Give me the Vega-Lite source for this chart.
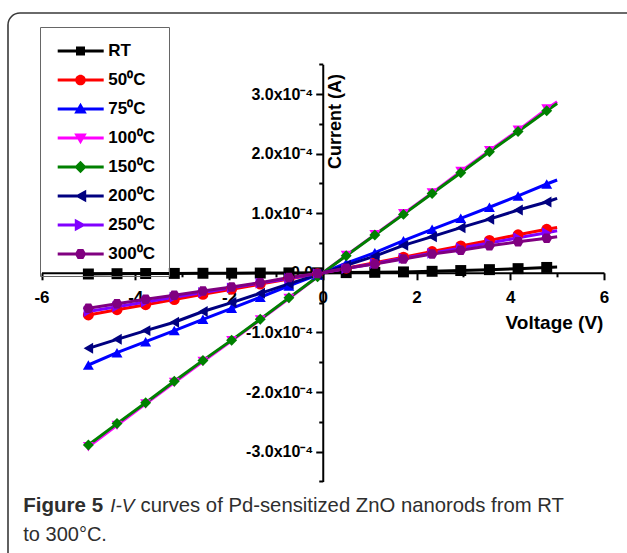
{
  "$schema": "https://vega.github.io/schema/vega-lite/v6.json",
  "width": 640,
  "height": 560,
  "autosize": {"type": "none"},
  "padding": {"left": 8, "top": 13, "right": -21, "bottom": -20},
  "background": "white",
  "config": {
    "font": "Liberation Sans",
    "view": {"stroke": "#3a3a3a", "strokeWidth": 1.6, "cornerRadius": 12},
    "axis": {"grid": false, "domainColor": "black", "tickColor": "black", "labelColor": "black", "titleColor": "black"},
    "legend": {
      "strokeColor": "#666666",
      "strokeWidth": 1,
      "padding": 14,
      "symbolSize": 400,
      "symbolStrokeWidth": 0,
      "symbolOpacity": 1,
      "labelFont": "Liberation Sans",
      "labelFontSize": 17,
      "labelFontWeight": "bold",
      "labelColor": "black",
      "labelOffset": 34.3,
      "rowPadding": 11
    }
  },
  "data": {
    "values": [
      {"T": "RT", "V": -5, "I": -2e-6}, {"T": "RT", "V": -4.389, "I": -1.5e-6}, {"T": "RT", "V": -3.778, "I": -1.2e-6}, {"T": "RT", "V": -3.167, "I": -1e-6}, {"T": "RT", "V": -2.556, "I": -8e-7}, {"T": "RT", "V": -1.944, "I": -6e-7}, {"T": "RT", "V": -1.333, "I": -4e-7}, {"T": "RT", "V": -0.722, "I": -2e-7}, {"T": "RT", "V": -0.111, "I": 0}, {"T": "RT", "V": 0.5, "I": 3e-7}, {"T": "RT", "V": 1.111, "I": 8e-7}, {"T": "RT", "V": 1.722, "I": 1.5e-6}, {"T": "RT", "V": 2.333, "I": 2.5e-6}, {"T": "RT", "V": 2.944, "I": 3.8e-6}, {"T": "RT", "V": 3.556, "I": 5.3e-6}, {"T": "RT", "V": 4.167, "I": 7e-6}, {"T": "RT", "V": 4.778, "I": 9e-6}, {"T": "RT", "V": 5, "I": 9.7e-6},
      {"T": "50⁰C", "V": -5, "I": -7.08e-5}, {"T": "50⁰C", "V": -4.389, "I": -6.2e-5}, {"T": "50⁰C", "V": -3.778, "I": -5.35e-5}, {"T": "50⁰C", "V": -3.167, "I": -4.5e-5}, {"T": "50⁰C", "V": -2.556, "I": -3.62e-5}, {"T": "50⁰C", "V": -1.944, "I": -2.76e-5}, {"T": "50⁰C", "V": -1.333, "I": -1.9e-5}, {"T": "50⁰C", "V": -0.722, "I": -1.03e-5}, {"T": "50⁰C", "V": -0.111, "I": -1.6e-6}, {"T": "50⁰C", "V": 0.5, "I": 7.7e-6}, {"T": "50⁰C", "V": 1.111, "I": 1.7e-5}, {"T": "50⁰C", "V": 1.722, "I": 2.63e-5}, {"T": "50⁰C", "V": 2.333, "I": 3.57e-5}, {"T": "50⁰C", "V": 2.944, "I": 4.5e-5}, {"T": "50⁰C", "V": 3.556, "I": 5.44e-5}, {"T": "50⁰C", "V": 4.167, "I": 6.37e-5}, {"T": "50⁰C", "V": 4.778, "I": 7.3e-5}, {"T": "50⁰C", "V": 5, "I": 7.6e-5},
      {"T": "75⁰C", "V": -5, "I": -1.547e-4}, {"T": "75⁰C", "V": -4.389, "I": -1.34e-4}, {"T": "75⁰C", "V": -3.778, "I": -1.156e-4}, {"T": "75⁰C", "V": -3.167, "I": -9.7e-5}, {"T": "75⁰C", "V": -2.556, "I": -7.8e-5}, {"T": "75⁰C", "V": -1.944, "I": -5.96e-5}, {"T": "75⁰C", "V": -1.333, "I": -4.1e-5}, {"T": "75⁰C", "V": -0.722, "I": -2.2e-5}, {"T": "75⁰C", "V": -0.111, "I": -3.5e-6}, {"T": "75⁰C", "V": 0.5, "I": 1.6e-5}, {"T": "75⁰C", "V": 1.111, "I": 3.37e-5}, {"T": "75⁰C", "V": 1.722, "I": 5.39e-5}, {"T": "75⁰C", "V": 2.333, "I": 7.3e-5}, {"T": "75⁰C", "V": 2.944, "I": 9.14e-5}, {"T": "75⁰C", "V": 3.556, "I": 1.1e-4}, {"T": "75⁰C", "V": 4.167, "I": 1.29e-4}, {"T": "75⁰C", "V": 4.778, "I": 1.49e-4}, {"T": "75⁰C", "V": 5, "I": 1.557e-4},
      {"T": "100⁰C", "V": -5, "I": -2.92e-4}, {"T": "100⁰C", "V": -4.389, "I": -2.56e-4}, {"T": "100⁰C", "V": -3.778, "I": -2.2e-4}, {"T": "100⁰C", "V": -3.167, "I": -1.84e-4}, {"T": "100⁰C", "V": -2.556, "I": -1.49e-4}, {"T": "100⁰C", "V": -1.944, "I": -1.14e-4}, {"T": "100⁰C", "V": -1.333, "I": -7.9e-5}, {"T": "100⁰C", "V": -0.722, "I": -4.3e-5}, {"T": "100⁰C", "V": -0.111, "I": -6.6e-6}, {"T": "100⁰C", "V": 0.5, "I": 2.9e-5}, {"T": "100⁰C", "V": 1.111, "I": 6.4e-5}, {"T": "100⁰C", "V": 1.722, "I": 9.9e-5}, {"T": "100⁰C", "V": 2.333, "I": 1.34e-4}, {"T": "100⁰C", "V": 2.944, "I": 1.7e-4}, {"T": "100⁰C", "V": 3.556, "I": 2.05e-4}, {"T": "100⁰C", "V": 4.167, "I": 2.39e-4}, {"T": "100⁰C", "V": 4.778, "I": 2.75e-4}, {"T": "100⁰C", "V": 5, "I": 2.87e-4},
      {"T": "150⁰C", "V": -5, "I": -2.89e-4}, {"T": "150⁰C", "V": -4.389, "I": -2.53e-4}, {"T": "150⁰C", "V": -3.778, "I": -2.18e-4}, {"T": "150⁰C", "V": -3.167, "I": -1.82e-4}, {"T": "150⁰C", "V": -2.556, "I": -1.47e-4}, {"T": "150⁰C", "V": -1.944, "I": -1.13e-4}, {"T": "150⁰C", "V": -1.333, "I": -7.8e-5}, {"T": "150⁰C", "V": -0.722, "I": -4.2e-5}, {"T": "150⁰C", "V": -0.111, "I": -6.5e-6}, {"T": "150⁰C", "V": 0.5, "I": 2.87e-5}, {"T": "150⁰C", "V": 1.111, "I": 6.34e-5}, {"T": "150⁰C", "V": 1.722, "I": 9.8e-5}, {"T": "150⁰C", "V": 2.333, "I": 1.33e-4}, {"T": "150⁰C", "V": 2.944, "I": 1.68e-4}, {"T": "150⁰C", "V": 3.556, "I": 2.03e-4}, {"T": "150⁰C", "V": 4.167, "I": 2.37e-4}, {"T": "150⁰C", "V": 4.778, "I": 2.72e-4}, {"T": "150⁰C", "V": 5, "I": 2.84e-4},
      {"T": "200⁰C", "V": -5, "I": -1.267e-4}, {"T": "200⁰C", "V": -4.389, "I": -1.116e-4}, {"T": "200⁰C", "V": -3.778, "I": -9.7e-5}, {"T": "200⁰C", "V": -3.167, "I": -8.3e-5}, {"T": "200⁰C", "V": -2.556, "I": -6.5e-5}, {"T": "200⁰C", "V": -1.944, "I": -5e-5}, {"T": "200⁰C", "V": -1.333, "I": -3.44e-5}, {"T": "200⁰C", "V": -0.722, "I": -1.85e-5}, {"T": "200⁰C", "V": -0.111, "I": -3e-6}, {"T": "200⁰C", "V": 0.5, "I": 1.25e-5}, {"T": "200⁰C", "V": 1.111, "I": 2.8e-5}, {"T": "200⁰C", "V": 1.722, "I": 4.6e-5}, {"T": "200⁰C", "V": 2.333, "I": 6.06e-5}, {"T": "200⁰C", "V": 2.944, "I": 7.57e-5}, {"T": "200⁰C", "V": 3.556, "I": 9e-5}, {"T": "200⁰C", "V": 4.167, "I": 1.054e-4}, {"T": "200⁰C", "V": 4.778, "I": 1.188e-4}, {"T": "200⁰C", "V": 5, "I": 1.25e-4},
      {"T": "250⁰C", "V": -5, "I": -6.5e-5}, {"T": "250⁰C", "V": -4.389, "I": -5.71e-5}, {"T": "250⁰C", "V": -3.778, "I": -4.9e-5}, {"T": "250⁰C", "V": -3.167, "I": -4.1e-5}, {"T": "250⁰C", "V": -2.556, "I": -3.32e-5}, {"T": "250⁰C", "V": -1.944, "I": -2.53e-5}, {"T": "250⁰C", "V": -1.333, "I": -1.73e-5}, {"T": "250⁰C", "V": -0.722, "I": -9.4e-6}, {"T": "250⁰C", "V": -0.111, "I": -1.4e-6}, {"T": "250⁰C", "V": 0.5, "I": 7e-6}, {"T": "250⁰C", "V": 1.111, "I": 1.57e-5}, {"T": "250⁰C", "V": 1.722, "I": 2.43e-5}, {"T": "250⁰C", "V": 2.333, "I": 3.29e-5}, {"T": "250⁰C", "V": 2.944, "I": 4.15e-5}, {"T": "250⁰C", "V": 3.556, "I": 5.01e-5}, {"T": "250⁰C", "V": 4.167, "I": 5.87e-5}, {"T": "250⁰C", "V": 4.778, "I": 6.73e-5}, {"T": "250⁰C", "V": 5, "I": 7.05e-5},
      {"T": "300⁰C", "V": -5, "I": -5.96e-5}, {"T": "300⁰C", "V": -4.389, "I": -5.2e-5}, {"T": "300⁰C", "V": -3.778, "I": -4.45e-5}, {"T": "300⁰C", "V": -3.167, "I": -3.75e-5}, {"T": "300⁰C", "V": -2.556, "I": -3.05e-5}, {"T": "300⁰C", "V": -1.944, "I": -2.4e-5}, {"T": "300⁰C", "V": -1.333, "I": -1.65e-5}, {"T": "300⁰C", "V": -0.722, "I": -8e-6}, {"T": "300⁰C", "V": -0.111, "I": -1.2e-6}, {"T": "300⁰C", "V": 0.5, "I": 7.5e-6}, {"T": "300⁰C", "V": 1.111, "I": 1.48e-5}, {"T": "300⁰C", "V": 1.722, "I": 2.3e-5}, {"T": "300⁰C", "V": 2.333, "I": 3.15e-5}, {"T": "300⁰C", "V": 2.944, "I": 3.8e-5}, {"T": "300⁰C", "V": 3.556, "I": 4.55e-5}, {"T": "300⁰C", "V": 4.167, "I": 5.2e-5}, {"T": "300⁰C", "V": 4.778, "I": 5.79e-5}, {"T": "300⁰C", "V": 5, "I": 6.05e-5}
    ]
  },
  "resolve": {
    "scale": {"color": "independent", "shape": "independent"},
    "axis": {"x": "independent", "y": "independent"}
  },
  "layer": [
    {
      "mark": {"type": "line", "strokeWidth": 3},
      "encoding": {
        "x": {
          "field": "V", "type": "quantitative",
          "scale": {"domain": [-6, 6], "range": [33.5, 596], "nice": false, "zero": false},
          "axis": {
            "orient": "bottom", "offset": -300.2,
            "values": [-6, -4, -2, 0, 2, 4, 6],
            "labelExpr": "'' + datum.value",
            "labelFontSize": 17, "labelFontWeight": "bold", "labelPadding": 10,
            "labelFlush": false, "labelOverlap": false,
            "tickSize": 7, "tickWidth": 2, "domainWidth": 2,
            "title": "Voltage (V)", "titleFontSize": 19, "titleFontWeight": "bold",
            "titleX": 546, "titleY": 50, "titleAlign": "center", "titleBaseline": "middle", "titleAngle": 0
          }
        },
        "y": {
          "field": "I", "type": "quantitative",
          "scale": {"domain": [-0.00035, 0.00035], "range": [468.4, 51.2], "nice": false, "zero": false},
          "axis": {
            "orient": "left", "offset": -314.75,
            "values": [-0.0003, -0.0002, -0.0001, 0, 0.0001, 0.0002, 0.0003],
            "labelExpr": "datum.value == 0 ? '0.0' : (datum.value < 0 ? '-' : '') + format(abs(datum.value) * 10000, '.1f') + 'x10⁻⁴'",
            "labelFontSize": 16, "labelFontWeight": "bold", "labelPadding": 3,
            "labelFlush": false, "labelOverlap": false,
            "tickSize": 7, "tickWidth": 2, "domainWidth": 2,
            "title": "Current (A)", "titleFontSize": 18, "titleFontWeight": "bold",
            "titleAngle": 270, "titleX": 13, "titleY": 108, "titleAlign": "center", "titleBaseline": "middle",
            "encode": {"labels": {"update": {"dy": {"signal": "datum.value === 0 ? -6 : 0"}}}}
          }
        },
        "color": {
          "field": "T", "type": "nominal",
          "scale": {
            "domain": ["RT", "50⁰C", "75⁰C", "100⁰C", "150⁰C", "200⁰C", "250⁰C", "300⁰C"],
            "range": ["#000000", "#ff0000", "#0000ff", "#ff00ff", "#008000", "#000080", "#8000ff", "#800080"]
          },
          "legend": null
        }
      }
    },
    {
      "transform": [{"filter": "datum.V < 4.9"}],
      "mark": {"type": "point", "filled": true, "opacity": 1, "size": 120},
      "encoding": {
        "x": {
          "field": "V", "type": "quantitative",
          "scale": {"domain": [-6, 6], "range": [33.5, 596], "nice": false, "zero": false},
          "axis": {
            "orient": "bottom", "offset": -300.2,
            "values": [-5, -3, -1, 1, 3, 5],
            "labels": false, "domain": false, "tickSize": 4, "tickWidth": 2,
            "title": "Figure 5", "titleFontSize": 20.5, "titleFontWeight": "bold", "titleColor": "#2e2e2e",
            "titleX": 14.8, "titleY": 238.2, "titleAlign": "left", "titleBaseline": "alphabetic", "titleAngle": 0
          }
        },
        "y": {
          "field": "I", "type": "quantitative",
          "scale": {"domain": [-0.00035, 0.00035], "range": [468.4, 51.2], "nice": false, "zero": false},
          "axis": {
            "orient": "left", "offset": -314.75,
            "values": [-0.00035, -0.00025, -0.00015, -0.00005, 0.00005, 0.00015, 0.00025, 0.00035],
            "labels": false, "domain": false, "tickSize": 4, "tickWidth": 2,
            "title": "I-V", "titleFontSize": 19, "titleFontWeight": "normal", "titleFontStyle": "italic", "titleColor": "#2e2e2e",
            "titleAngle": 0, "titleX": -213, "titleY": 498, "titleAlign": "left", "titleBaseline": "alphabetic"
          }
        },
        "color": {
          "field": "T", "type": "nominal",
          "scale": {
            "domain": ["RT", "50⁰C", "75⁰C", "100⁰C", "150⁰C", "200⁰C", "250⁰C", "300⁰C"],
            "range": ["#000000", "#ff0000", "#0000ff", "#ff00ff", "#008000", "#000080", "#8000ff", "#800080"]
          },
          "legend": null
        },
        "shape": {
          "field": "T", "type": "nominal",
          "scale": {
            "domain": ["RT", "50⁰C", "75⁰C", "100⁰C", "150⁰C", "200⁰C", "250⁰C", "300⁰C"],
            "range": ["square", "circle", "triangle-up", "triangle-down", "diamond", "triangle-left", "triangle-right", "M-1,0L-0.5,-0.866L0.5,-0.866L1,0L0.5,0.866L-0.5,0.866Z"]
          },
          "legend": null
        }
      }
    },
    {
      "transform": [{"filter": "datum.V > 99"}],
      "mark": {"type": "point", "filled": true, "opacity": 1, "size": 400},
      "encoding": {
        "x": {
          "field": "V", "type": "quantitative",
          "scale": {"domain": [-6, 6], "range": [33.5, 596], "nice": false, "zero": false},
          "axis": {
            "orient": "bottom", "offset": -300.2,
            "labels": false, "domain": false, "ticks": false,
            "title": "curves of Pd-sensitized ZnO nanorods from RT", "titleFontSize": 20.3, "titleFontWeight": "normal", "titleColor": "#2e2e2e",
            "titleX": 132, "titleY": 238.2, "titleAlign": "left", "titleBaseline": "alphabetic", "titleAngle": 0
          }
        },
        "y": {
          "field": "I", "type": "quantitative",
          "scale": {"domain": [-0.00035, 0.00035], "range": [468.4, 51.2], "nice": false, "zero": false},
          "axis": {
            "orient": "left", "offset": 0,
            "labels": false, "domain": false, "ticks": false,
            "title": "to 300°C.", "titleFontSize": 20, "titleFontWeight": "normal", "titleColor": "#2e2e2e",
            "titleAngle": 0, "titleX": 14.8, "titleY": 527, "titleAlign": "left", "titleBaseline": "alphabetic"
          }
        },
        "color": {
          "field": "T", "type": "nominal",
          "scale": {
            "domain": ["RT", "50⁰C", "75⁰C", "100⁰C", "150⁰C", "200⁰C", "250⁰C", "300⁰C"],
            "range": ["#000000", "#ff0000", "#0000ff", "#ff00ff", "#008000", "#000080", "#8000ff", "#800080"]
          },
          "legend": {"orient": "none", "legendX": 32, "legendY": 14, "title": null}
        },
        "shape": {
          "field": "T", "type": "nominal",
          "scale": {
            "domain": ["RT", "50⁰C", "75⁰C", "100⁰C", "150⁰C", "200⁰C", "250⁰C", "300⁰C"],
            "range": [
              "M-0.63,-0.15H3.97V0.15H-0.63Z M1.2,-0.45H2.1V0.45H1.2Z",
              "M-0.63,-0.15H3.97V0.15H-0.63Z M1.12,0A0.53,0.53 0 1,1 2.18,0A0.53,0.53 0 1,1 1.12,0Z",
              "M-0.63,-0.15H3.97V0.15H-0.63Z M1.65,-0.62L2.28,0.46L1.02,0.46Z",
              "M-0.63,-0.15H3.97V0.15H-0.63Z M1.02,-0.46L2.28,-0.46L1.65,0.62Z",
              "M-0.63,-0.15H3.97V0.15H-0.63Z M1.65,-0.62L2.27,0L1.65,0.62L1.03,0Z",
              "M-0.63,-0.15H3.97V0.15H-0.63Z M1.08,0L2.22,-0.62L2.22,0.62Z",
              "M-0.63,-0.15H3.97V0.15H-0.63Z M2.22,0L1.08,0.62L1.08,-0.62Z",
              "M-0.63,-0.15H3.97V0.15H-0.63Z M1.08,0L1.365,-0.5L1.935,-0.5L2.22,0L1.935,0.5L1.365,0.5Z"
            ]
          },
          "legend": {"orient": "none", "legendX": 32, "legendY": 14, "title": null}
        }
      }
    }
  ]
}
